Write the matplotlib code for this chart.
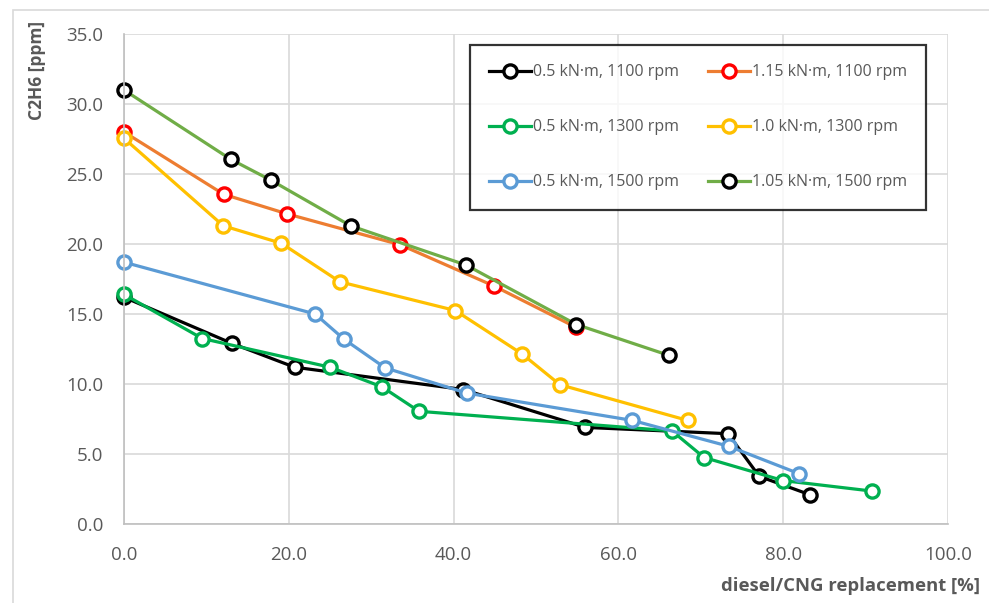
import matplotlib
matplotlib.use("Agg")
import matplotlib.pyplot as plt
from matplotlib.patches import Rectangle

# ---- data ----
x_05_1100 = [0.0, 13.1, 20.7, 41.2, 56.0, 73.3, 77.1, 83.2]
y_05_1100 = [16.2, 12.9, 11.2, 9.6, 6.9, 6.45, 3.4, 2.1]

x_115_1100 = [0.0, 12.1, 19.8, 33.5, 44.9, 54.85]
y_115_1100 = [28.0, 23.55, 22.15, 19.95, 17.0, 14.05]

x_05_1300 = [0.0, 9.5, 25.0, 31.3, 35.8, 66.5, 70.4, 80.0, 90.8]
y_05_1300 = [16.4, 13.25, 11.2, 9.8, 8.05, 6.65, 4.75, 3.1, 2.35]

x_10_1300 = [0.0, 12.05, 19.1, 26.2, 40.2, 48.3, 52.9, 68.4]
y_10_1300 = [27.55, 21.3, 20.05, 17.3, 15.25, 12.15, 9.95, 7.4]

x_05_1500 = [0.0, 23.2, 26.7, 31.7, 41.6, 61.7, 73.4, 81.9]
y_05_1500 = [18.7, 15.0, 13.2, 11.15, 9.35, 7.4, 5.55, 3.6]

x_105_1500 = [0.0, 12.95, 17.85, 27.5, 41.5, 54.9, 66.1]
y_105_1500 = [31.0, 26.05, 24.55, 21.3, 18.5, 14.25, 12.05]

labels = ["0.5 kN\u00b7m, 1100 rpm", "1.15 kN\u00b7m, 1100 rpm",
          "0.5 kN\u00b7m, 1300 rpm", "1.0 kN\u00b7m, 1300 rpm",
          "0.5 kN\u00b7m, 1500 rpm", "1.05 kN\u00b7m, 1500 rpm"]
line_colors = ["#000000", "#ED7D31", "#00B050", "#FFC000", "#5B9BD5", "#70AD47"]
marker_colors = ["#000000", "#FF0000", "#00B050", "#FFC000", "#5B9BD5", "#000000"]

xticks = [0, 20, 40, 60, 80, 100]
yticks = [0, 5, 10, 15, 20, 25, 30, 35]

plt.rcParams['font.family'] = ['Open Sans', 'DejaVu Sans']
txt = "#595959"

W, H = 989, 603
fig = plt.figure(figsize=(W/100, H/100), dpi=100)
ax = fig.add_axes([124/W, 1-524/H, (948-124)/W, (524-34)/H])

series = [(x_05_1100, y_05_1100), (x_115_1100, y_115_1100),
          (x_05_1300, y_05_1300), (x_10_1300, y_10_1300),
          (x_05_1500, y_05_1500), (x_105_1500, y_105_1500)]
handles = []
for (xs, ys), lab, lc, mc in zip(series, labels, line_colors, marker_colors):
    h, = ax.plot(xs, ys, color=lc, lw=2.3, marker='o', ms=9.5, mfc='white',
                 mec=mc, mew=2.4, label=lab, clip_on=False)
    handles.append(h)

ax.set_xlim(0, 100)
ax.set_ylim(0, 35)
ax.set_xticks(xticks)
ax.set_yticks(yticks)
ax.set_xticklabels([f"{v:.1f}" for v in xticks])
ax.set_yticklabels([f"{v:.1f}" for v in yticks])
ax.grid(True, color="#d9d9d9", lw=1.2)
ax.set_axisbelow(True)
for s in ['top', 'right']:
    ax.spines[s].set_visible(False)
for s in ['left', 'bottom']:
    ax.spines[s].set_color("#bfbfbf")
    ax.spines[s].set_linewidth(1.2)
ax.tick_params(length=0, labelsize=13.5, colors=txt)
ax.tick_params(axis='y', pad=15)
ax.tick_params(axis='x', pad=16)

order = [0, 2, 4, 1, 3, 5]
leg = ax.legend(handles=[handles[i] for i in order], labels=[labels[i] for i in order],
                ncol=2, loc='upper left',
                bbox_to_anchor=((470-124)/(948-124), 1-(45-34)/(524-34)),
                fontsize=11.5, frameon=True, fancybox=False, edgecolor='black',
                handlelength=2.6, handletextpad=0.1, columnspacing=1.87,
                labelspacing=2.43, borderpad=1.22, borderaxespad=0)
leg.get_frame().set_linewidth(1.6)
for t in leg.get_texts():
    t.set_color(txt)

fig.text(37/W, 1-70/H, "C2H6 [ppm]", rotation=90, ha='center', va='center',
         fontsize=12.5, fontweight='bold', color=txt)
fig.text(980/W, 1-586/H, "diesel/CNG replacement [%]", ha='right', va='center',
         fontsize=13.3, fontweight='bold', color=txt)

fig.patches.append(Rectangle((13/W, -0.1), 1.2, 1-10/H+0.1, transform=fig.transFigure,
                             fill=False, edgecolor="#d9d9d9", lw=1.2))

fig.savefig("out.png", dpi=100)
